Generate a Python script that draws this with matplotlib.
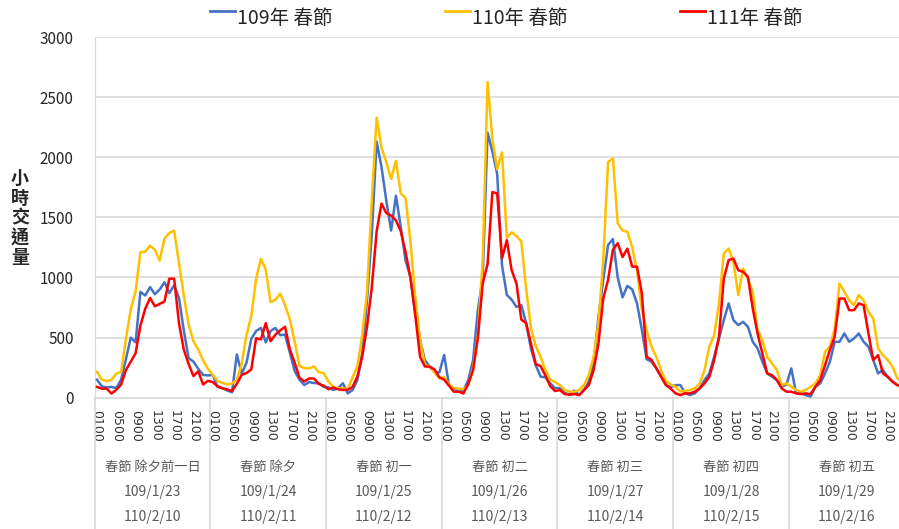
import numpy as np
import matplotlib
matplotlib.use('Agg')
import matplotlib.pyplot as plt
from matplotlib.lines import Line2D

CJK = 'Noto Sans CJK TC'
plt.rcParams['font.family'] = ['DejaVu Sans', CJK]

# hourly traffic, 7 days x 24 hours (0100 ... 2400)
y109 = [150, 95, 85, 90, 80, 150, 320, 500, 460, 880, 850, 920, 860, 900, 960, 870, 935, 830, 560, 330, 300, 240, 190, 185,
        190, 90, 80, 60, 45, 360, 200, 290, 490, 555, 580, 460, 555, 580, 520, 525, 375, 220, 150, 105, 130, 122, 120, 90,
        86, 64, 78, 120, 36, 64, 147, 370, 810, 1365, 2130, 1920, 1640, 1390, 1680, 1420, 1140, 1005, 700, 480, 313, 258, 215, 210,
        355, 105, 78, 50, 60, 147, 313, 730, 1000, 2205, 2050, 1860, 1100, 855, 815, 755, 770, 620, 410, 270, 175, 170, 120, 80,
        80, 40, 25, 60, 22, 64, 133, 285, 670, 980, 1270, 1320, 1000, 835, 930, 900, 785, 565, 320, 300, 245, 175, 105, 88,
        105, 105, 36, 22, 36, 78, 147, 202, 340, 493, 645, 784, 645, 604, 631, 590, 465, 410, 299, 202, 174, 147, 91, 110,
        244, 36, 36, 22, 10, 91, 119, 202, 299, 465, 465, 534, 465, 493, 534, 465, 424, 313, 202, 230, 174, 133, 105, 90]
y110 = [215, 150, 138, 148, 200, 215, 490, 735, 885, 1210, 1215, 1265, 1230, 1140, 1325, 1370, 1390, 1120, 850, 610, 470, 400, 310, 240,
        190, 140, 122, 112, 118, 150, 280, 520, 680, 990, 1155, 1065, 795, 815, 865, 770, 650, 465, 265, 245, 245, 260, 212, 205,
        135, 90, 78, 78, 70, 170, 260, 520, 880, 1650, 2330, 2080, 1960, 1820, 1970, 1700, 1660, 1300, 840, 480, 275, 258, 210, 160,
        170, 110, 80, 75, 70, 105, 250, 520, 1150, 2625, 2150, 1900, 2040, 1330, 1375, 1345, 1300, 910, 580, 430, 340, 230, 150, 130,
        105, 64, 50, 50, 64, 105, 188, 340, 620, 1150, 1960, 1990, 1450, 1390, 1380, 1250, 1060, 730, 560, 425, 340, 230, 140, 110,
        91, 50, 58, 64, 78, 119, 230, 424, 520, 784, 1199, 1240, 1130, 853, 1074, 991, 880, 562, 479, 340, 285, 230, 105, 119,
        91, 64, 50, 64, 91, 119, 188, 382, 424, 576, 950, 880, 811, 770, 853, 811, 714, 659, 410, 354, 313, 258, 161, 130]
y111 = [90, 75, 75, 35, 65, 110, 230, 300, 370, 600, 740, 830, 760, 780, 800, 990, 990, 620, 400, 280, 180, 220, 110, 140,
        130, 95, 78, 70, 55, 115, 190, 205, 235, 495, 485, 620, 470, 525, 560, 590, 400, 290, 165, 135, 160, 160, 115, 100,
        70, 85, 70, 65, 65, 90, 175, 340, 590, 920, 1385, 1615, 1535, 1515, 1475, 1385, 1210, 1000, 690, 340, 260, 258, 235, 170,
        150, 100, 50, 50, 35, 115, 230, 500, 950, 1110, 1710, 1700, 1160, 1310, 1060, 950, 650, 620, 450, 280, 262, 185, 95, 55,
        64, 30, 25, 30, 22, 64, 105, 230, 450, 825, 980, 1230, 1285, 1170, 1240, 1090, 1090, 870, 340, 315, 245, 175, 105, 75,
        36, 22, 36, 36, 50, 78, 119, 174, 313, 507, 991, 1144, 1157, 1060, 1047, 1005, 742, 534, 368, 202, 188, 147, 78, 50,
        50, 36, 30, 36, 30, 91, 147, 271, 396, 507, 825, 825, 728, 728, 784, 770, 534, 313, 354, 202, 174, 133, 105, 90]

days = ['春節 除夕前一日', '春節 除夕', '春節 初一', '春節 初二', '春節 初三', '春節 初四', '春節 初五']
dates109 = ['109/1/23', '109/1/24', '109/1/25', '109/1/26', '109/1/27', '109/1/28', '109/1/29']
dates110 = ['110/2/10', '110/2/11', '110/2/12', '110/2/13', '110/2/14', '110/2/15', '110/2/16']
hour_labels = ['0100', '0500', '0900', '1300', '1700', '2100']
series_names = ['109年 春節', '110年 春節', '111年 春節']
colors = ['#4472C4', '#FFC000', '#FF0000']

W, H = 899, 529
fig = plt.figure(figsize=(W / 100, H / 100), dpi=100)
# plot area runs a bit past the right edge (the original is cropped)
x0, x1, ytop, ybot = 94.6, 904.6, 37.0, 397.7
ax = fig.add_axes([x0 / W, (H - ybot) / H, (x1 - x0) / W, (ybot - ytop) / H])

n = len(y109)
x = np.arange(n) + 0.5
for i, ys in enumerate([y109, y110, y111]):
    ax.plot(x, ys, color=colors[i], lw=1.8, zorder=3 + i)

ax.set_xlim(0, n)
ax.set_ylim(0, 3000)
ax.set_yticks(np.arange(0, 3001, 500))
ax.yaxis.grid(True, color='#d9d9d9', lw=1.2)
ax.set_axisbelow(True)
for s in ['top', 'right']:
    ax.spines[s].set_visible(False)
ax.spines['left'].set_color('#d9d9d9')
ax.spines['bottom'].set_color('#d9d9d9')
ax.spines['bottom'].set_linewidth(1.2)
ax.tick_params(axis='y', length=0, pad=15, labelsize=11, labelcolor='#262626')
for t in ax.get_yticklabels():
    t.set_family([CJK])

# hour labels
pos, labs = [], []
for d in range(len(days)):
    for k, h in enumerate(hour_labels):
        pos.append(d * 24 + k * 4 + 0.5)
        labs.append(h)
ax.set_xticks(pos)
ax.set_xticklabels(labs, rotation=-90, fontsize=9, color='#333333')
ax.tick_params(axis='x', which='major', length=0, pad=9)

# day separators below the axis
ax.set_xticks(np.arange(0, n + 1, 24), minor=True)
ax.tick_params(axis='x', which='minor', length=(H - ybot) * 0.72 + 2, color='#d9d9d9', width=1.2, direction='out')

tr = ax.get_xaxis_transform()
for d in range(len(days)):
    xc = d * 24 + 12
    ax.text(xc, (ybot - 467) / (ybot - ytop), days[d], transform=tr, ha='center', va='center',
            fontsize=9.5, color='#595959', family=[CJK, 'DejaVu Sans'])
    ax.text(xc, (ybot - 492) / (ybot - ytop), dates109[d], transform=tr, ha='center', va='center',
            fontsize=10, color='#595959', family=[CJK])
    ax.text(xc, (ybot - 517) / (ybot - ytop), dates110[d], transform=tr, ha='center', va='center',
            fontsize=10, color='#595959', family=[CJK])

fig.text(20 / W, 1 - 218 / H, '小\n時\n交\n通\n量', ha='center', va='center', fontsize=13,
         fontweight='bold', color='#262626', linespacing=1.05, family=[CJK, 'DejaVu Sans'])

# legend drawn by hand to match the original's placement
leg_x = [210, 445, 680]
for i, name in enumerate(series_names):
    xa = leg_x[i]
    fig.add_artist(Line2D([xa / W, (xa + 25) / W], [1 - 11 / H, 1 - 11 / H], color=colors[i], lw=2,
                          transform=fig.transFigure))
    fig.text((xa + 27) / W, 1 - 18.5 / H, name, ha='left', va='center', fontsize=14, color='#262626',
             family=[CJK, 'DejaVu Sans'])

fig.savefig('out.png', dpi=100)
